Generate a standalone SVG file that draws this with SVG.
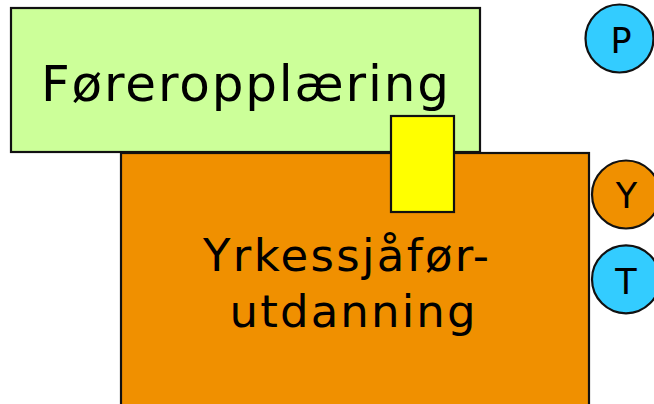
<svg xmlns="http://www.w3.org/2000/svg" width="654" height="404" viewBox="0 0 654 404">
<style>
.box{stroke:#111;stroke-width:2.2}
.t{font-family:"DejaVu Sans","Verdana",sans-serif;fill:#000}
.c{font-family:"DejaVu Sans","Verdana",sans-serif;font-size:35px;fill:#000;text-anchor:middle}
</style>
<rect width="654" height="404" fill="#fff"/>
<g id="foreropplaering">
<rect class="box" x="11" y="8" width="469" height="144" fill="#CCFF99"/>
<text class="t" x="41" y="100.5" font-size="50" textLength="408" lengthAdjust="spacing">Føreropplæring</text>
</g>
<g id="yrkessjafor">
<rect class="box" x="121" y="153" width="468" height="260" fill="#F09000"/>
<text class="t" x="203" y="270.5" font-size="45" textLength="286" lengthAdjust="spacing">Yrkessjåfør-</text>
<text class="t" x="229.5" y="326.5" font-size="45" textLength="246" lengthAdjust="spacing">utdanning</text>
</g>
<g id="yellow">
<rect class="box" x="391" y="116" width="63" height="96" fill="#FFFF00"/>
</g>
<g id="P">
<circle class="box" cx="619.5" cy="38.5" r="34" fill="#33CCFF"/>
<text class="c" x="621" y="53.3">P</text>
</g>
<g id="Y">
<circle class="box" cx="626" cy="194.5" r="34" fill="#F09000"/>
<text class="c" x="626.5" y="208.3">Y</text>
</g>
<g id="T">
<circle class="box" cx="626" cy="279.3" r="34" fill="#33CCFF"/>
<text class="c" x="626" y="294.3">T</text>
</g>
<g id="connectors"/>
</svg>
